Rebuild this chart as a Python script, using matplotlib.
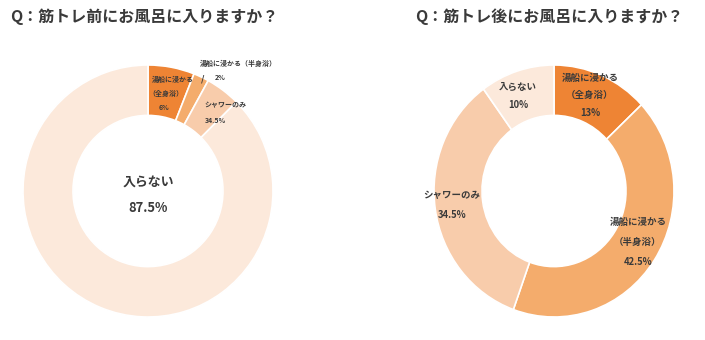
import matplotlib.pyplot as plt

plt.rcParams['font.family'] = ['Noto Sans CJK JP', 'DejaVu Sans']

# 筋トレ前
before_labels = ['湯船に浸かる（全身浴）', '湯船に浸かる（半身浴）', 'シャワーのみ', '入らない']
before_values = [6, 2, 4.5, 87.5]
# 筋トレ後
after_labels = ['湯船に浸かる（全身浴）', '湯船に浸かる（半身浴）', 'シャワーのみ', '入らない']
after_values = [13, 42.5, 34.5, 10]

colors = ['#EE8434', '#F4AC6C', '#F8CCAB', '#FCE9DB']
txt = '#3A3A3A'

W, H = 705, 340
fig = plt.figure(figsize=(W / 100, H / 100), dpi=100)


def donut(cx, cy, rx, ry, values):
    ax = fig.add_axes([(cx - rx) / W, 1 - (cy + ry) / H, 2 * rx / W, 2 * ry / H])
    ax.pie(values, colors=colors, startangle=90, counterclock=False,
           radius=1, wedgeprops=dict(width=0.4, edgecolor='white', linewidth=1.2))
    ax.set_xlim(-1, 1)
    ax.set_ylim(-1, 1)
    ax.set_aspect('auto')
    ax.axis('off')
    return ax


def put(x, y, s, size=6, **kw):
    fig.text(x / W, 1 - y / H, s, fontsize=size, fontweight='bold', color=txt,
             ha='center', va='center', **kw)


donut(148, 191, 125, 126, before_values)
donut(554, 191, 120, 126, after_values)

fig.text(10 / W, 1 - 17 / H, 'Q：筋トレ前にお風呂に入りますか？', fontsize=11.5,
         fontweight='bold', color=txt, ha='left', va='center')
fig.text(415 / W, 1 - 17 / H, 'Q：筋トレ後にお風呂に入りますか？', fontsize=11.5,
         fontweight='bold', color=txt, ha='left', va='center')

# 左のラベル
put(173, 79, '湯船に浸かる', 5)
put(166, 93, '（全身浴）', 5)
put(164, 108, f'{before_values[0]:g}%', 5)
put(203, 79, '/', 6.5)
put(238, 63, '湯船に浸かる（半身浴）', 5)
put(220, 77, f'{before_values[1]:g}%', 5)
put(225, 105, 'シャワーのみ', 5)
put(215, 120, '34.5%', 5)
put(148, 182, before_labels[3], 9.3)
put(148, 208, f'{before_values[3]:g}%', 9.3)

# 右のラベル
put(590, 78, '湯船に浸かる', 6.8)
put(590, 95, '（全身浴）', 6.8)
put(590, 113, f'{after_values[0]:g}%', 6.8)
put(518, 87, after_labels[3], 6.8)
put(518, 105, f'{after_values[3]:g}%', 6.8)
put(452, 195, after_labels[2], 6.8)
put(452, 215, f'{after_values[2]:g}%', 6.8)
put(638, 222, '湯船に浸かる', 6.8)
put(638, 242, '（半身浴）', 6.8)
put(638, 262, f'{after_values[1]:g}%', 6.8)

fig.savefig('out.png', dpi=100, facecolor='white')
